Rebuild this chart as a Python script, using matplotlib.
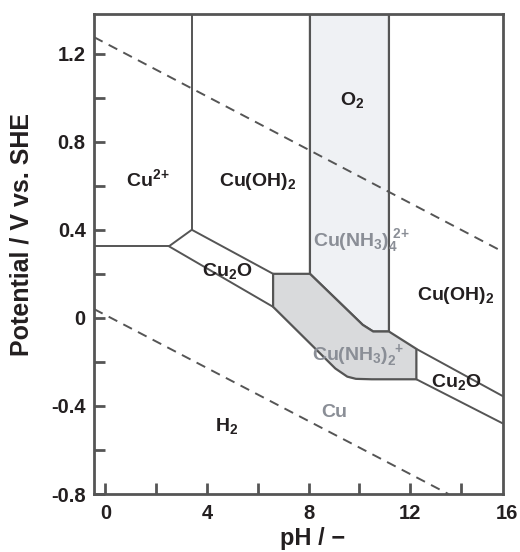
import matplotlib
matplotlib.use("Agg")
import matplotlib.pyplot as plt
from matplotlib.patches import Polygon
from matplotlib.transforms import blended_transform_factory, offset_copy

plt.rcParams['font.family'] = ['Liberation Sans', 'DejaVu Sans']
plt.rcParams['font.weight'] = 'bold'
plt.rcParams['mathtext.fontset'] = 'custom'
plt.rcParams['mathtext.rm'] = 'Liberation Sans:bold'
plt.rcParams['mathtext.bf'] = 'Liberation Sans:bold'
plt.rcParams['mathtext.it'] = 'Liberation Sans:bold'
plt.rcParams['mathtext.default'] = 'bf'

# ---------------- data (pH, potential / V vs SHE) ----------------
XMIN, XMAX = -0.45, 15.65
YMIN, YMAX = -0.8, 1.38

# water stability lines (dashed)
o2_ph = [-0.45, 15.65]
o2_e = [1.275, 0.30]
h2_ph = [-0.45, 13.5]
h2_e = [0.04, -0.8]

# solid phase boundaries
cu2_cu_ph = [-0.45, 2.5]
cu2_cu_e = [0.325, 0.325]
cu2_cu2o_ph = [2.5, 3.4]
cu2_cu2o_e = [0.325, 0.40]
cu2_cuoh_ph = [3.4, 3.4]
cu2_cuoh_e = [0.40, 1.38]
cuoh_cu2o_left_ph = [3.4, 6.6]
cuoh_cu2o_left_e = [0.40, 0.20]
cu2o_cu_left_ph = [2.5, 6.6]
cu2o_cu_left_e = [0.325, 0.05]
cuoh_cu2o_right_ph = [12.24, 15.65]
cuoh_cu2o_right_e = [-0.141, -0.356]
cu2o_cu_right_ph = [12.24, 15.65]
cu2o_cu_right_e = [-0.279, -0.48]

# Cu(NH3)4 2+ region
nh34_ph = [8.05, 8.05, 10.13, 10.54, 11.16, 11.16]
nh34_e = [1.38, 0.20, -0.032, -0.062, -0.062, 1.38]

# Cu(NH3)2 + region
nh32_ph = [6.6, 8.05, 10.13, 10.54, 11.16, 12.24, 12.24, 10.48, 9.86, 9.52, 9.05, 6.6]
nh32_e = [0.20, 0.20, -0.032, -0.062, -0.062, -0.141, -0.279, -0.279, -0.277, -0.267, -0.23, 0.05]

# region labels
label_text = [r'$\mathregular{Cu^{2\!+}}$', r'$\mathregular{Cu(OH)_2}$', r'$\mathregular{O_2}$',
              r'$\mathregular{Cu(NH_3)_4^{\ 2\!+}}$', r'$\mathregular{Cu_2O}$', r'$\mathregular{Cu(OH)_2}$',
              r'$\mathregular{Cu(NH_3)_2^{\ +}}$', r'$\mathregular{Cu_2O}$', 'Cu', r'$\mathregular{H_2}$']
label_ph = [1.68, 6.0, 9.7, 10.1, 4.8, 13.8, 9.95, 13.8, 9.0, 4.77]
label_e = [0.63, 0.62, 0.99, 0.35, 0.215, 0.10, -0.17, -0.29, -0.43, -0.49]
label_gray = [False, False, False, True, False, False, True, False, True, False]

x_major = [0, 4, 8, 12]
x_minor = [2, 6, 10, 14]
x_extra_label = '16'
y_major = [-0.8, -0.4, 0, 0.4, 0.8, 1.2]
y_minor = [-0.6, -0.2, 0.2, 0.6, 1.0]
y_major_labels = ['-0.8', '-0.4', '0', '0.4', '0.8', '1.2']

# ---------------- styling ----------------
LINE = '#555555'
TXT = '#231f20'
GRAY_TXT = '#8a8e96'

fig = plt.figure(figsize=(5.2, 5.52), dpi=100)
ax = fig.add_axes([94 / 520, 58 / 552, 409 / 520, 480 / 552])
ax.set_xlim(XMIN, XMAX)
ax.set_ylim(YMIN, YMAX)

ax.add_patch(Polygon(list(zip(nh34_ph, nh34_e)), closed=True, facecolor='#eff1f4',
                     edgecolor=LINE, lw=1.6, zorder=1))
ax.add_patch(Polygon(list(zip(nh32_ph, nh32_e)), closed=True, facecolor='#d9dadc',
                     edgecolor=LINE, lw=1.6, zorder=2, joinstyle='round'))

for xs, ys in [(cu2_cu_ph, cu2_cu_e), (cu2_cu2o_ph, cu2_cu2o_e), (cu2_cuoh_ph, cu2_cuoh_e),
               (cuoh_cu2o_left_ph, cuoh_cu2o_left_e), (cu2o_cu_left_ph, cu2o_cu_left_e),
               (cuoh_cu2o_right_ph, cuoh_cu2o_right_e), (cu2o_cu_right_ph, cu2o_cu_right_e)]:
    ax.plot(xs, ys, color=LINE, lw=1.4, zorder=3, solid_capstyle='butt')

for xs, ys in [(o2_ph, o2_e), (h2_ph, h2_e)]:
    ax.plot(xs, ys, color=LINE, lw=1.4, ls=(0, (5, 3.5)), zorder=3)

for t, x, y, g in zip(label_text, label_ph, label_e, label_gray):
    ax.text(x, y, t, ha='center', va='center', fontsize=14, fontweight='bold',
            color=GRAY_TXT if g else TXT, zorder=5)

for s in ax.spines.values():
    s.set_color(LINE)
    s.set_linewidth(2)

ax.set_xticks(x_major)
ax.set_xticks(x_minor, minor=True)
ax.set_yticks(y_major)
ax.set_yticklabels(y_major_labels)
ax.set_yticks(y_minor, minor=True)
ax.tick_params(which='both', direction='in', length=8, width=2, color=LINE,
               top=False, right=False)
ax.tick_params(axis='x', which='major', labelsize=14.5, pad=7, labelcolor=TXT)
ax.tick_params(axis='y', which='major', labelsize=14.5, pad=6, labelcolor=TXT)
for lab in ax.get_xticklabels() + ax.get_yticklabels():
    lab.set_fontweight('bold')

# the last x label sits just right of the right spine
trans = offset_copy(ax.transAxes, fig=fig, x=3, y=-7, units='points')
ax.text(1.0, 0, x_extra_label, transform=trans, ha='center', va='top',
        fontsize=14.5, fontweight='bold', color=TXT, clip_on=False)

ax.set_xlabel('pH / \u2212', fontsize=17, fontweight='bold', color=TXT)
ax.xaxis.set_label_coords(0.535, -0.068)
ax.set_ylabel('Potential / V vs. SHE', fontsize=18, fontweight='bold', color=TXT)
ax.yaxis.set_label_coords(-0.148, 0.54)

fig.savefig('out.png', dpi=100)
